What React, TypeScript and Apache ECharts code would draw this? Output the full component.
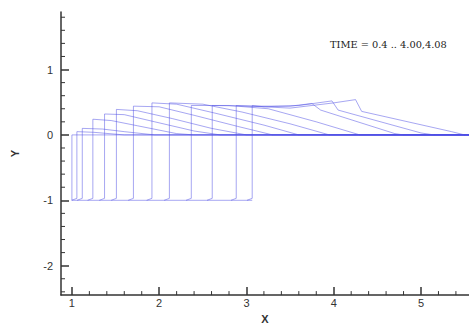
import React, { useEffect, useRef } from "react";
import * as echarts from "echarts";

// Piston (left wall) positions and surface heights at the wall, one per time level
const pistonX = [1.0, 1.057, 1.119, 1.24, 1.374, 1.51, 1.705, 1.917, 2.117, 2.368, 2.608, 2.883, 3.066];
const pistonH = [0.0, 0.05, 0.1, 0.24, 0.32, 0.39, 0.44, 0.49, 0.49, 0.45, 0.45, 0.45, 0.45];

// Free-surface points to the right of the wall for each time level
const surf0: number[][] = [];
const surf1 = [[1.25, 0.04], [1.6, 0.0]];
const surf2 = [[1.35, 0.09], [1.6, 0.05], [1.95, 0.0]];
const surf3 = [[1.45, 0.22], [1.75, 0.14], [2.2, 0.02], [2.4, 0.0]];
const surf4 = [[1.6, 0.31], [1.95, 0.2], [2.4, 0.06], [2.7, 0.0]];
const surf5 = [[1.75, 0.37], [2.15, 0.25], [2.6, 0.1], [3.0, 0.0]];
const surf6 = [[2.0, 0.43], [2.4, 0.3], [2.9, 0.13], [3.3, 0.0]];
const surf7 = [[2.2, 0.47], [2.65, 0.33], [3.2, 0.15], [3.6, 0.0]];
const surf8 = [[2.5, 0.47], [2.95, 0.35], [3.5, 0.17], [3.95, 0.0]];
const surf9 = [[2.8, 0.45], [3.25, 0.4], [3.8, 0.2], [4.3, 0.0]];
const surf10 = [[3.1, 0.44], [3.5, 0.44], [3.75, 0.48], [3.85, 0.38], [4.7, 0.02], [4.8, 0.0]];
const surf11 = [[3.2, 0.43], [3.6, 0.45], [3.98, 0.52], [4.05, 0.38], [5.0, 0.03], [5.15, 0.0]];
const surf12 = [[3.2, 0.43], [3.5, 0.41], [4.0, 0.49], [4.25, 0.54], [4.32, 0.36], [5.35, 0.05], [5.5, 0.0]];
const surfaces = [surf0, surf1, surf2, surf3, surf4, surf5, surf6, surf7, surf8, surf9, surf10, surf11, surf12];

const bottomY = -1.0;
const rightEndX = 5.55;

const xMajor = [1, 2, 3, 4, 5];
const xMinor = [1.2, 1.4, 1.6, 1.8, 2.2, 2.4, 2.6, 2.8, 3.2, 3.4, 3.6, 3.8, 4.2, 4.4, 4.6, 4.8, 5.2, 5.4];
const yMajor = [-2, -1, 0, 1];
const yMinor = [-2.4, -2.2, -1.8, -1.6, -1.4, -1.2, -0.8, -0.6, -0.4, -0.2, 0.2, 0.4, 0.6, 0.8, 1.2, 1.4, 1.6, 1.8];

const titleText = "TIME = 0.4 .. 4.00,4.08";

export default function App() {
  const ref = useRef<HTMLDivElement>(null);
  useEffect(() => {
    if (!ref.current) return;
    const chart = echarts.init(ref.current, null, { renderer: "svg" });
    const axisColor = "#333333";
    const lineColor = "rgba(80,80,230,0.5)";
    const X0 = 0.875, X1 = 5.55, Y0 = -2.45, Y1 = 1.88;

    const series: any[] = [];
    series.push({
      type: "line",
      data: [[1.0, bottomY], [pistonX[pistonX.length - 1], bottomY]],
      showSymbol: false,
      lineStyle: { color: lineColor, width: 1 },
      silent: true,
    });
    pistonX.forEach((px, i) => {
      const pts: number[][] = [];
      if (i > 0) pts.push([px - 0.06, bottomY]);
      pts.push([px, bottomY + (i > 0 ? 0.03 : 0)]);
      pts.push([px, pistonH[i]]);
      surfaces[i].forEach((p) => pts.push(p));
      pts.push([rightEndX, 0]);
      series.push({
        type: "line",
        data: pts,
        showSymbol: false,
        lineStyle: { color: lineColor, width: 1 },
        silent: true,
      });
    });
    // minor ticks on the X axis
    series.push({
      type: "custom",
      silent: true,
      data: xMinor.map((v) => [v, Y0]),
      renderItem: (params: any, api: any) => {
        const p = api.coord([api.value(0), api.value(1)]);
        return {
          type: "line",
          shape: { x1: p[0], y1: p[1], x2: p[0], y2: p[1] - 4 },
          style: { stroke: axisColor, lineWidth: 1 },
        };
      },
    });
    // minor ticks on the Y axis
    series.push({
      type: "custom",
      silent: true,
      data: yMinor.map((v) => [X0, v]),
      renderItem: (params: any, api: any) => {
        const p = api.coord([api.value(0), api.value(1)]);
        return {
          type: "line",
          shape: { x1: p[0], y1: p[1], x2: p[0] + 4, y2: p[1] },
          style: { stroke: axisColor, lineWidth: 1 },
        };
      },
    });

    chart.setOption({
      animation: false,
      grid: { left: 61, right: 0, top: 12, bottom: 28 },
      xAxis: {
        type: "value",
        min: X0,
        max: X1,
        position: "bottom",
        splitLine: { show: false },
        axisLine: { show: true, onZero: false, lineStyle: { color: axisColor, width: 1.5 } },
        name: "X",
        nameLocation: "middle",
        nameGap: 13,
        nameTextStyle: { fontSize: 11, color: axisColor, fontFamily: "Liberation Sans", fontWeight: "bold" },
        axisTick: { show: true, inside: true, length: 8, customValues: xMajor, lineStyle: { color: axisColor, width: 1.5 } },
        axisLabel: { customValues: xMajor, fontSize: 11, color: axisColor, margin: 2, fontFamily: "Liberation Sans" },
      },
      yAxis: {
        type: "value",
        min: Y0,
        max: Y1,
        position: "left",
        splitLine: { show: false },
        axisLine: { show: true, onZero: false, lineStyle: { color: axisColor, width: 1.5 } },
        name: "Y",
        nameLocation: "middle",
        nameGap: 41,
        nameRotate: 90,
        nameTextStyle: { fontSize: 11, color: axisColor, fontFamily: "Liberation Sans", fontWeight: "bold" },
        axisTick: { show: true, inside: true, length: 8, customValues: yMajor, lineStyle: { color: axisColor, width: 1.5 } },
        axisLabel: { customValues: yMajor, fontSize: 11, color: axisColor, margin: 8, fontFamily: "Liberation Sans" },
      },
      graphic: [
        {
          type: "text",
          left: 330,
          top: 39,
          style: { text: titleText, fontSize: 9.8, fill: "#222222", fontFamily: "DejaVu Serif" },
        },
      ],
      series,
    });
    return () => chart.dispose();
  }, []);
  return (
    <div
      ref={ref}
      style={{ position: "absolute", left: 0, top: 0, width: 469, height: 329, background: "#fff" }}
    />
  );
}
